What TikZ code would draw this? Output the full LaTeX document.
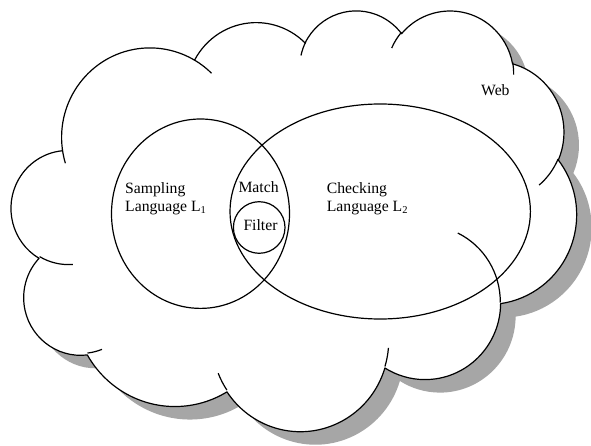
\documentclass[tikz,border=0pt]{standalone}
\usepackage{fontspec}
\setmainfont{Liberation Serif}
\definecolor{shadowgray}{HTML}{A6A6A6}
\newcommand\lowsub[1]{\raisebox{-0.13em}{\fontsize{10.5}{10.5}\selectfont #1}}
\newcommand\cloudoutline{(39.00,143.70)
 arc[start angle=172.253, delta angle=128.107, x radius=67.53, y radius=91.90]
 arc[start angle=-152.03, delta angle=106.59, x radius=53.33, y radius=72.67]
 arc[start angle=-153.49, delta angle=116.18, x radius=43.65, y radius=59.45]
 arc[start angle=-139.71, delta angle=129.50, x radius=48.57, y radius=65.95]
 arc[start angle=-74.77, delta angle=97.98, x radius=53.33, y radius=72.73]
 arc[start angle=-37.52, delta angle=119.38, x radius=67.75, y radius=92.20]
 arc[start angle=0.46, delta angle=121.52, x radius=57.85, y radius=78.67]
 arc[start angle=16.84, delta angle=129.39, x radius=67.52, y radius=92.15]
 arc[start angle=58.98, delta angle=91.20, x radius=77.20, y radius=105.43]
 arc[start angle=-276.69, delta angle=139.80, x radius=43.60, y radius=59.18]
 arc[start angle=-239.64, delta angle=143.75, x radius=43.45, y radius=59.45]
 -- cycle}
\tikzset{
  outline/.style={draw=black, line width=1.2pt},
  lbl/.style={anchor=base west, inner sep=0pt, font=\fontsize{15.7}{19}\selectfont}
}
\begin{document}
\begin{tikzpicture}[x=1pt, y=-1pt]
\useasboundingbox (0,0) rectangle (591,446);
\clip (0,0) rectangle (591,446);
\fill[white] (0,0) rectangle (591,446);
% cloud
\begin{scope}[shift={(11.4pt,-9.53pt)}, x=1.3079pt, y=-0.9737pt]
  \fill[shadowgray, shift={(15pt,-13pt)}] \cloudoutline;
  \path[outline, fill=white, line join=round] \cloudoutline;
  \draw[outline] (46.93,261.77) arc[start angle=85.55, delta angle=34.81, x radius=43.45, y radius=59.45];
  \draw[outline] (69.28,348.99) arc[start angle=68.23, delta angle=15.08, x radius=43.60, y radius=59.18];
  \draw[outline] (164.78,390.90) arc[start angle=146.23, delta angle=12.24, x radius=67.52, y radius=92.15];
  \draw[outline] (288.27,347.51) arc[start angle=4.74, delta angle=12.11, x radius=67.52, y radius=92.15];
  \draw[outline] (341.29,229.54) arc[start angle=-64.02, delta angle=64.48, x radius=57.85, y radius=78.67];
  \draw[outline] (417.98,153.54) arc[start angle=23.21, delta angle=26.43, x radius=53.33, y radius=72.73];
  \draw[outline] (383.24,54.26) arc[start angle=-10.21, delta angle=11.03, x radius=48.57, y radius=65.95];
  \draw[outline] (290.78,39.52) arc[start angle=-156.29, delta angle=16.58, x radius=48.57, y radius=65.95];
  \draw[outline] (221.41,47.20) arc[start angle=-167.72, delta angle=14.22, x radius=43.65, y radius=59.45];
  \draw[outline] (140.00,51.92) arc[start angle=-59.64, delta angle=13.92, x radius=67.53, y radius=91.90];
  \draw[outline] (41.27,157.89) arc[start angle=163.19, delta angle=9.06, x radius=67.53, y radius=91.90];
\end{scope}
% sets
\draw[outline] (200.5,213.7) ellipse [x radius=89, y radius=94.7];
\draw[outline] (380.2,211.5) ellipse [x radius=150.2, y radius=107.5];
\draw[outline] (259.2,227.5) ellipse [x radius=25.8, y radius=25.8];
% labels
\node[lbl] (s1) at (125,193.3) {Sampling};
\node[lbl] (s2) at (125,211.7) {Language L\lowsub{1}};
\node[lbl] (m)  at (238.3,192.7) {Match};
\node[lbl] (f)  at (243.3,230) {Filter};
\node[lbl] (c1) at (326.7,193.3) {Checking};
\node[lbl] (c2) at (326.7,211.7) {Language L\lowsub{2}};
\node[lbl] (w)  at (481,96) {Web};
\end{tikzpicture}
\end{document}
